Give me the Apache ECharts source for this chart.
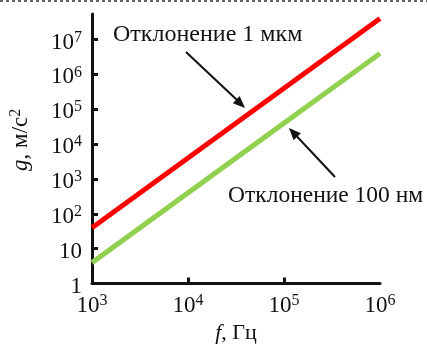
<!DOCTYPE html>
<html><head><meta charset="utf-8">
<script src="https://cdn.jsdelivr.net/npm/echarts@6/dist/echarts.min.js"></script>
<style>html,body{margin:0;padding:0;background:#fff}#c{width:427px;height:349px}</style>
</head><body><div id="c"></div>
<script>
const freqs = [1e3, 1e4, 1e5, 1e6];
const g1um = [40, 4000, 4e5, 4e7];
const g100nm = [4, 400, 4e4, 4e6];
const xTickValues = [1e4, 1e5];
const xLabelValues = [1e3, 1e4, 1e5, 1e6];
const yTickValues = [10, 100, 1e3, 1e4, 1e5, 1e6, 1e7];
const yLabelValues = [1, 10, 100, 1e3, 1e4, 1e5, 1e6, 1e7];
const label1 = 'Отклонение 1 мкм';
const label2 = 'Отклонение 100 нм';

const FONT = '"Liberation Serif","Times New Roman",serif';
function powLabel(v){
  const e = Math.round(Math.log10(v));
  if (e === 0) return '{b|1}';
  if (e === 1) return '{b|10}';
  return '{b|10}{s|' + e + '}';
}
const rich = {
  b: {fontFamily: FONT, fontSize: 23, color: '#111'},
  s: {fontFamily: FONT, fontSize: 16, color: '#111', padding: [0,0,10,0]}
};
const chart = echarts.init(document.getElementById('c'));
chart.setOption({
  animation: false,
  grid: {left: 90, right: 47, top: 14, bottom: 62},
  xAxis: {
    type: 'log', min: 1e3, max: 1e6, logBase: 10,
    splitLine: {show: false},
    axisLine: {lineStyle: {color: '#111', width: 3}},
    axisTick: {inside: true, length: 6, lineStyle: {width: 3, color: '#111'}, customValues: xTickValues},
    axisLabel: {margin: 9, formatter: powLabel, rich: rich, customValues: xLabelValues},
    name: '{i|f}{n|, Гц}', nameLocation: 'middle', nameGap: 32,
    nameTextStyle: {rich: {
      i: {fontFamily: FONT, fontSize: 22, fontStyle: 'italic', color: '#111'},
      n: {fontFamily: FONT, fontSize: 22, color: '#111'}
    }}
  },
  yAxis: {
    type: 'log', min: 1, max: 5.4e7, logBase: 10,
    splitLine: {show: false},
    axisLine: {lineStyle: {color: '#111', width: 3}},
    axisTick: {inside: true, length: 6, lineStyle: {width: 3, color: '#111'}, customValues: yTickValues},
    axisLabel: {margin: 10, formatter: powLabel, rich: rich, customValues: yLabelValues, padding: [6,0,0,0]},
    name: '{i|g}{n|, м/с}{s|2}', nameLocation: 'middle', nameGap: 58, nameRotate: 90,
    nameTextStyle: {padding: [0,0,0,18], rich: {
      i: {fontFamily: FONT, fontSize: 23, fontStyle: 'italic', color: '#111'},
      n: {fontFamily: FONT, fontSize: 23, color: '#111'},
      s: {fontFamily: FONT, fontSize: 16, color: '#111', padding: [0,0,10,0]}
    }}
  },
  series: [
    {type: 'line', data: freqs.map((f,i)=>[f, g1um[i]]), symbol: 'none',
     lineStyle: {color: '#ff0000', width: 5}, z: 3},
    {type: 'line', data: freqs.map((f,i)=>[f, g100nm[i]]), symbol: 'none',
     lineStyle: {color: '#92d050', width: 5}, z: 3}
  ],
  graphic: [
    {type: 'line', shape: {x1: 0, y1: 1, x2: 427, y2: 1}, style: {stroke: '#333', lineWidth: 1.5, lineDash: [3,3]}},
    {type: 'text', left: 113, top: 23, style: {text: label1, font: '24px ' + FONT, fill: '#111'}},
    {type: 'text', left: 228, top: 184, style: {text: label2, font: '23.5px ' + FONT, fill: '#111'}},
    {type: 'line', shape: {x1: 186, y1: 52, x2: 237, y2: 100}, style: {stroke: '#111', lineWidth: 2}},
    {type: 'polygon', shape: {points: [[245,108],[232.9,103.3],[239.7,96.1]]}, style: {fill: '#111'}},
    {type: 'line', shape: {x1: 335, y1: 177, x2: 297, y2: 136.5}, style: {stroke: '#111', lineWidth: 2}},
    {type: 'polygon', shape: {points: [[289,128],[300.9,133.3],[293.6,140.2]]}, style: {fill: '#111'}}
  ]
});
</script></body></html>
